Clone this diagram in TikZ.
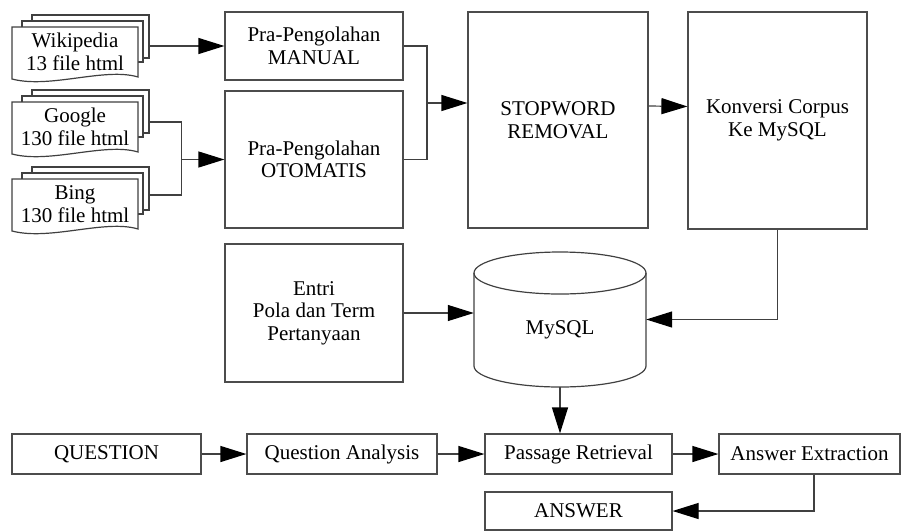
\documentclass[tikz,border=0pt]{standalone}
\usepackage{fontspec}
\setmainfont{LiberationSerif}[Extension=.ttf, UprightFont=*-Regular, BoldFont=*-Bold, ItalicFont=*-Italic]
\usetikzlibrary{arrows.meta}

\begin{document}
\begin{tikzpicture}[x=1pt,y=-1pt,
  box/.style={draw=black!70, line width=1.2pt, align=center, inner sep=0pt, font=\fontsize{21}{22.5}\selectfont},
  doc/.style={align=center, inner sep=0pt, minimum width=126pt, minimum height=50pt, font=\fontsize{21}{22.5}\selectfont},
  ln/.style={draw=black!75, line width=1.2pt},
  arr/.style={ln, -{Triangle[length=26pt,width=16pt,black]}}]
   \useasboundingbox (0,0) rectangle (902,531);

   % source documents
   \foreach \nm/\yt/\txt in {wiki/27/{Wikipedia\\13 file html}, google/102/{Google\\130 file html}, bing/179/{Bing\\130 file html}} {
     \draw[ln, fill=white] (32,\yt-12) rectangle (149,\yt+31);
     \draw[ln, fill=white] (22,\yt-6) rectangle (143,\yt+35);
     \draw[ln, fill=white] (12,\yt) -- (138,\yt) -- (138,\yt+50) .. controls (105,\yt+40) and (50,\yt+62) .. (12,\yt+52) -- cycle;
     \node[doc] (\nm) at (75,\yt+25) {\txt};
   }

   \node[box, minimum width=178pt, minimum height=68pt] (manual) at (314,46) {Pra-Pengolahan\\MANUAL};
   \node[box, minimum width=178pt, minimum height=137pt] (otomatis) at (314,159.5) {Pra-Pengolahan\\OTOMATIS};
   \node[box, minimum width=180pt, minimum height=216pt] (stopword) at (558,120) {STOPWORD\\REMOVAL};
   \node[box, minimum width=179pt, minimum height=217pt] (konversi) at (777.5,120.5) {Konversi Corpus\\Ke MySQL};
   \node[box, minimum width=178pt, minimum height=138pt] (entri) at (314,313) {Entri\\Pola dan Term\\Pertanyaan};

   % database
   \node[minimum width=172pt, minimum height=135pt, inner sep=0pt] (mysql) at (560,319.5) {};
   \draw[ln] (474,273) -- (474,366) arc[start angle=180, end angle=0, x radius=86, y radius=21] -- (646,273);
   \draw[ln] (560,273) ellipse[x radius=86, y radius=21];
   \node[font=\fontsize{21}{22.5}\selectfont] (mysqllbl) at (560,330) {MySQL};

   \node[box, minimum width=189pt, minimum height=40pt] (question) at (106.5,454) {QUESTION};
   \node[box, minimum width=190pt, minimum height=40pt] (qa) at (342,454) {Question Analysis};
   \node[box, minimum width=187pt, minimum height=40pt] (passage) at (578.5,454) {Passage Retrieval};
   \node[box, minimum width=181pt, minimum height=40pt] (extract) at (809.5,454) {Answer Extraction};
   \node[box, minimum width=187pt, minimum height=38pt] (answer) at (578.5,511) {ANSWER};

   \coordinate (wikiout) at ([xshift=11pt]wiki.east);
   \coordinate (googleout) at ([xshift=11pt,yshift=5pt]google.east);
   \coordinate (bingout) at ([xshift=11pt,yshift=9pt]bing.east);
   \coordinate (jdoc) at ([xshift=-43pt]otomatis.west);
   \coordinate (jpre) at (427,103);

   \draw[arr] (wikiout |- manual.west) -- (manual.west);
   \draw[ln] (googleout) -| (jdoc);
   \draw[ln] (bingout) -| (jdoc);
   \draw[arr] (jdoc) -- (otomatis.west);
   \draw[ln] (manual.east) -| (jpre);
   \draw[ln] (otomatis.east) -| (jpre);
   \draw[arr] (jpre) -- (jpre -| stopword.west);
   \draw[arr] ([yshift=14pt]stopword.east) -- ([yshift=14pt]konversi.west);
   \draw[arr] (konversi.south) |- (mysql.east);
   \draw[arr] (entri.east) -- (entri.east -| mysql.west);
   \draw[arr] (mysql.south) -- (mysql.south |- passage.north);

   \draw[arr] (question) -- (qa);
   \draw[arr] (qa) -- (passage);
   \draw[arr] (passage) -- (extract);
   \draw[arr] ([xshift=4.5pt]extract.south) |- (answer.east);
\end{tikzpicture}
\end{document}
